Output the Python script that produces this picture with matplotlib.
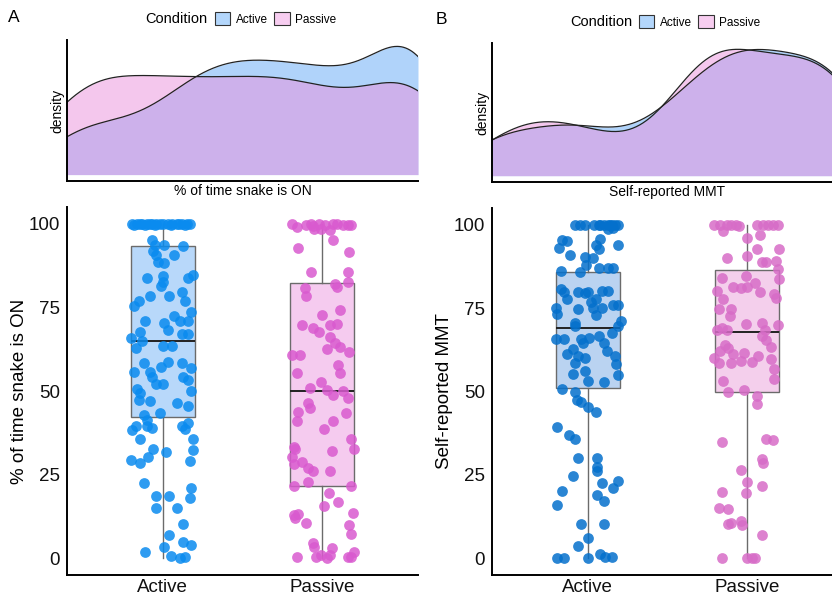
import numpy as np
import matplotlib
matplotlib.use('Agg')
import matplotlib.pyplot as plt
from matplotlib.patches import Patch

plt.rcParams['font.family'] = ['Liberation Sans', 'DejaVu Sans']

categories = ['Active', 'Passive']

# panel A: % of time snake is ON  (jitter offset, value)
a_active_dx = [-0.19, -0.16, -0.13, -0.10, -0.07, -0.04, 0.00, 0.03, 0.06, 0.09, 0.12, 0.15, 0.17,
               -0.18, -0.14, -0.11, -0.08, -0.05, -0.02, 0.05, 0.10, 0.14,
               -0.07, -0.05, 0.01, 0.13, -0.06, -0.04, 0.07, -0.03, 0.01, -0.10, 0.00, 0.16, 0.19,
               0.00, -0.01, -0.08, 0.04, 0.12, 0.14, -0.15, -0.18, 0.18, 0.07, -0.11, 0.01, 0.11,
               0.16, 0.03, -0.14, 0.12, 0.16, -0.20, -0.13, -0.17, 0.00, 0.06, 0.18, -0.18, -0.08,
               -0.07, -0.01, 0.03, -0.12, 0.12, -0.04, 0.00, 0.13, 0.16, -0.16, -0.14, 0.18, -0.15,
               -0.08, 0.09, 0.16, -0.12, -0.02, -0.10, -0.17, -0.10, -0.07, 0.12, 0.16, 0.14, -0.19,
               -0.14, 0.19, -0.06, 0.02, 0.19, -0.20, -0.09, -0.14, 0.17, -0.12, 0.18, -0.04, 0.04,
               0.17, -0.04, 0.09, 0.13, 0.04, 0.13, 0.18, -0.11, 0.01, 0.05, 0.11, 0.14]
a_active_y = [100, 100, 100, 100, 100, 100, 100, 100, 100, 100, 100, 100, 100,
              99.6, 100, 99.5, 100, 99.7, 100, 99.6, 100, 99.5,
              95.0, 93.7, 93.7, 93.4, 91.7, 90.7, 90.7, 88.7, 88.4, 83.7, 84.4, 83.7, 84.7,
              82.7, 81.5, 78.3, 78.3, 79.5, 77.0, 77.0, 75.5, 73.7, 72.5, 70.8, 70.3, 71.0,
              71.0, 68.1, 67.5, 67.1, 67.1, 65.8, 64.8, 63.0, 63.5, 63.5, 56.8, 55.8, 55.8,
              54.3, 57.3, 58.8, 58.3, 58.3, 52.1, 52.1, 54.3, 53.3, 50.5, 49.4, 49.9, 47.4,
              47.1, 46.4, 45.6, 42.9, 43.4, 41.4, 39.4, 39.6, 38.9, 39.4, 40.4, 38.7, 38.4,
              35.6, 35.6, 32.6, 31.8, 32.4, 29.4, 30.4, 28.4, 29.1, 22.4, 20.9, 18.6, 18.6,
              17.9, 15.0, 15.0, 10.3, 7.0, 4.8, 4.0, 1.8, 3.3, 0.7, 0.0, 0.3]

a_passive_dx = [-0.19, -0.16, -0.10, -0.07, -0.05, -0.02, 0.02, 0.05, 0.09, 0.13, 0.16, 0.18, 0.07,
                -0.01, -0.06, 0.07, -0.15, 0.17, -0.07, 0.16, 0.08, 0.16, -0.11, -0.10, 0.09, 0.11,
                0.00, -0.13, 0.05, 0.09, -0.06, -0.02, 0.05, 0.08, 0.11, 0.03, 0.17, -0.19, -0.14,
                -0.16, 0.11, 0.10, -0.01, -0.08, 0.03, 0.07, 0.13, 0.16, -0.09, -0.08, -0.15, 0.15,
                -0.16, 0.07, 0.01, -0.18, -0.17, 0.06, 0.20, 0.18, -0.19, -0.18, -0.13, -0.09, -0.06,
                0.05, -0.18, 0.18, -0.09, 0.04, 0.10, 0.01, -0.18, -0.15, -0.17, 0.19, -0.10, 0.17,
                0.18, -0.06, -0.05, -0.16, -0.04, -0.01, 0.06, 0.05, 0.16, 0.18, 0.20, 0.03]
a_passive_y = [100, 98.9, 99.7, 100, 98.4, 100, 99.7, 98.2, 100, 99.7, 99.7, 99.7, 100,
               98.4, 99.4, 95.0, 92.7, 91.5, 85.6, 85.6, 82.0, 82.5, 80.8, 78.5, 81.0, 74.3,
               72.8, 69.8, 69.8, 70.0, 68.8, 67.5, 66.1, 64.3, 63.1, 62.5, 61.8, 60.8, 60.8,
               55.3, 55.3, 57.8, 52.8, 50.8, 50.3, 48.9, 49.9, 47.9, 46.4, 44.9, 43.6, 43.4,
               40.9, 41.1, 38.6, 33.4, 32.6, 32.1, 32.6, 35.6, 30.4, 28.1, 28.9, 26.9, 26.1,
               26.1, 21.6, 21.6, 22.9, 19.4, 16.9, 15.7, 13.0, 13.3, 12.0, 13.5, 10.5, 10.0,
               7.2, 4.7, 3.5, 0.3, 0.5, 1.0, 3.0, 1.0, 0.5, 0.5, 2.0, 0.2]

# panel B: Self-reported MMT
b_active_dx = [-0.08, -0.05, -0.02, 0.04, 0.07, 0.10, 0.13, 0.15, 0.17, 0.19, 0.14, 0.08, 0.13, 0.16,
               -0.16, -0.13, -0.18, 0.08, 0.05, 0.07, 0.19, -0.11, -0.02, 0.03, -0.01, 0.07, 0.13,
               0.16, -0.17, -0.05, -0.17, -0.15, -0.13, -0.06, -0.02, 0.00, 0.09, 0.13, 0.05, 0.02,
               -0.20, -0.06, 0.03, 0.09, 0.16, 0.19, -0.19, 0.05, -0.08, -0.08, 0.21, 0.19, 0.15,
               -0.20, -0.15, -0.04, 0.01, 0.07, -0.09, -0.03, 0.10, 0.12, -0.13, -0.06, -0.02, 0.17,
               -0.08, 0.18, 0.19, -0.09, -0.02, 0.00, 0.10, -0.16, -0.08, -0.07, -0.04, 0.00, 0.05,
               -0.19, -0.12, -0.08, -0.06, 0.06, 0.06, 0.06, -0.09, 0.09, 0.19, 0.16, -0.16, 0.06,
               0.10, -0.19, -0.04, 0.10, 0.00, -0.06, -0.19, -0.15, 0.00, 0.08, 0.11, 0.15]
b_active_y = [100, 100, 100, 100, 100, 100, 100, 100, 100, 100, 100, 100, 98.8, 99.0,
              95.3, 95.0, 93.0, 95.6, 94.0, 92.8, 93.8, 91.0, 90.2, 90.0, 88.0, 87.1, 87.1,
              86.9, 86.2, 85.9, 80.7, 79.7, 77.7, 79.9, 79.5, 79.7, 80.2, 80.2, 77.7, 76.7,
              75.1, 74.8, 75.1, 75.1, 75.9, 75.9, 73.1, 72.8, 70.4, 69.6, 71.1, 69.6, 67.6,
              65.8, 65.6, 65.8, 66.1, 66.6, 62.8, 64.6, 64.4, 62.0, 61.1, 60.6, 60.1, 60.6,
              58.6, 58.1, 55.0, 55.3, 56.0, 53.0, 52.7, 50.7, 50.0, 47.5, 47.0, 45.5, 43.9,
              39.4, 36.9, 35.9, 30.1, 30.1, 27.4, 26.2, 24.8, 22.5, 23.1, 21.1, 20.1, 19.1,
              17.1, 16.0, 10.3, 10.3, 6.2, 3.7, 0.0, 0.0, 0.0, 1.2, 0.4, 0.4]

b_passive_dx = [-0.21, -0.17, -0.15, -0.13, -0.10, -0.07, -0.05, 0.06, 0.10, 0.13, 0.16, 0.19,
                0.00, 0.08, 0.06, 0.20, -0.13, 0.00, 0.09, 0.12, 0.18, 0.19, 0.20, -0.01, 0.05,
                -0.16, -0.09, -0.04, 0.00, 0.08, -0.19, -0.15, 0.17, 0.18, -0.18, -0.10, -0.11,
                -0.01, 0.09, 0.19, 0.11, -0.19, -0.16, -0.13, 0.09, 0.12, -0.14, -0.12, 0.15,
                -0.17, -0.09, -0.02, 0.07, -0.21, 0.15, -0.10, -0.04, 0.03, -0.18, 0.17, -0.15,
                0.17, -0.12, -0.02, 0.06, 0.06, -0.16, 0.12, 0.16, 0.09, 0.10, -0.04, 0.00, 0.09,
                -0.16, -0.01, -0.18, -0.12, -0.10, -0.12, -0.04, -0.03, 0.09, -0.16, 0.00, 0.03, 0.05]
b_passive_y = [100, 99.8, 98.0, 99.8, 100, 99.8, 99.6, 100, 100, 100, 100, 100,
               96.0, 97.0, 92.6, 92.6, 90.1, 90.5, 88.9, 88.7, 89.1, 86.7, 83.7, 84.5, 82.5,
               83.9, 81.2, 80.9, 81.2, 79.9, 80.2, 77.7, 79.2, 77.9, 74.6, 74.6, 72.6,
               70.1, 70.4, 69.8, 68.3, 68.4, 69.1, 68.4, 66.6, 65.3, 63.8, 63.1, 63.3,
               62.1, 61.1, 61.6, 60.6, 60.1, 59.8, 58.4, 59.1, 58.8, 58.6, 56.7, 53.0,
               53.7, 50.0, 50.5, 48.7, 46.3, 34.9, 35.9, 35.4, 29.9, 28.6, 26.6, 23.0, 21.6,
               19.8, 19.5, 15.1, 14.8, 10.5, 10.3, 11.1, 10.1, 6.9, 0.0, 0.0, 0.0, 0.0]

# box statistics: [Active, Passive]
a_q1 = [42.2, 21.6]
a_med = [64.8, 50.1]
a_q3 = [93.2, 82.3]
a_lo = [0, 0]
a_hi = [100, 100]
b_q1 = [51.0, 50.0]
b_med = [69.0, 67.9]
b_q3 = [85.9, 86.4]
b_lo = [0, 0]
b_hi = [100, 100]

W, H = 832, 599
fig = plt.figure(figsize=(W / 100, H / 100), dpi=100)


def pos(l, t, r, b):
    return [l / W, 1 - b / H, (r - l) / W, (b - t) / H]


def kde(vals, grid):
    # gaussian kde, bw.nrd0 like ggplot's geom_density
    v = np.asarray(vals, float)
    n = len(v)
    iqr = np.subtract(*np.percentile(v, [75, 25]))
    bw = 0.9 * min(v.std(ddof=1), iqr / 1.34) * n ** -0.2
    z = (grid[:, None] - v[None, :]) / bw
    return np.exp(-0.5 * z ** 2).sum(axis=1) / (n * bw * np.sqrt(2 * np.pi))


dens_col = {'Active': '#62A9F6', 'Passive': '#EB91DD'}
leg_col = {'Active': '#B3D6FB', 'Passive': '#F7CDF0'}


def density_panel(rect, act, pas, xlabel):
    ax = fig.add_axes(rect)
    grid = np.linspace(0, 100, 512)
    da, dp = kde(act, grid), kde(pas, grid)
    m = max(da.max(), dp.max())
    ax.fill_between(grid, 0, da, color=dens_col['Active'], alpha=0.5, lw=0)
    ax.plot(grid, da, color='#222222', lw=0.9)
    ax.fill_between(grid, 0, dp, color=dens_col['Passive'], alpha=0.5, lw=0)
    ax.plot(grid, dp, color='#222222', lw=0.9)
    ax.set_xlim(0, 100)
    ax.set_ylim(-0.05 * m, 1.05 * m)
    for s in ['top', 'right']:
        ax.spines[s].set_visible(False)
    for s in ['left', 'bottom']:
        ax.spines[s].set_linewidth(1.4)
    ax.set_xticks([])
    ax.set_yticks([])
    ax.set_ylabel('density', fontsize=10, labelpad=2)
    ax.set_xlabel(xlabel, fontsize=10, labelpad=2)
    return ax


def box_panel(rect, dxs, ys, q1, med, q3, lo, hi, box_cols, pt_cols, ylabel):
    ax = fig.add_axes(rect)
    stats = []
    for i in range(2):
        stats.append({'q1': q1[i], 'med': med[i], 'q3': q3[i],
                      'whislo': lo[i], 'whishi': hi[i], 'fliers': []})
    bp = ax.bxp(stats, positions=[1, 2], widths=0.4, patch_artist=True,
                showcaps=False, showfliers=False,
                boxprops=dict(edgecolor='#6b6b6b', linewidth=1.0),
                whiskerprops=dict(color='#6b6b6b', linewidth=1.0),
                medianprops=dict(color='#222222', linewidth=1.4))
    for patch, c in zip(bp['boxes'], box_cols):
        patch.set_facecolor(c)
    for i in range(2):
        ax.scatter(np.array(dxs[i]) + i + 1, ys[i], s=60, color=pt_cols[i],
                   alpha=0.85, linewidths=0, zorder=3)
    ax.set_xlim(0.4, 2.6)
    ax.set_ylim(-5, 105)
    ax.set_yticks([0, 25, 50, 75, 100])
    ax.set_xticks([1, 2])
    ax.set_xticklabels(categories)
    ax.tick_params(axis='both', length=0, labelsize=13.5, colors='#111111')
    ax.tick_params(axis='y', pad=5)
    ax.tick_params(axis='x', pad=3)
    for s in ['top', 'right']:
        ax.spines[s].set_visible(False)
    for s in ['left', 'bottom']:
        ax.spines[s].set_linewidth(1.4)
    ax.set_ylabel(ylabel, fontsize=13.5, labelpad=0.5)
    return ax


def legend(x_text, x_leg, y):
    fig.text(x_text / W, 1 - y / H, 'Condition', fontsize=10.5, va='center', ha='left')
    handles = [Patch(facecolor=leg_col[c], edgecolor='#333333', linewidth=0.8, label=c)
               for c in categories]
    fig.legend(handles=handles, loc='center left', bbox_to_anchor=(x_leg / W, 1 - y / H),
               ncol=2, frameon=False, fontsize=8.5, handlelength=1.3, handleheight=1.3,
               handletextpad=0.5, columnspacing=0.5, borderpad=0, borderaxespad=0)


# panel A
density_panel(pos(67, 40, 418, 181), a_active_y, a_passive_y, '% of time snake is ON')
box_panel(pos(67, 207, 418, 575), [a_active_dx, a_passive_dx], [a_active_y, a_passive_y],
          a_q1, a_med, a_q3, a_lo, a_hi, ['#B8D8FA', '#F5CBEF'], ['#0A8BEF', '#D95ACF'],
          '% of time snake is ON')
legend(145, 215, 19)
fig.text(14 / W, 1 - 18 / H, 'A', fontsize=12.5, ha='center', va='center')

# panel B (runs past the right edge of the image)
density_panel(pos(492, 43, 843, 182), b_active_y, b_passive_y, 'Self-reported MMT')
box_panel(pos(492, 208, 843, 575), [b_active_dx, b_passive_dx], [b_active_y, b_passive_y],
          b_q1, b_med, b_q3, b_lo, b_hi, ['#BAD3F1', '#F4CFEC'], ['#0470CC', '#D76CC7'],
          'Self-reported MMT')
legend(570, 639, 22)
fig.text(441 / W, 1 - 20 / H, 'B', fontsize=12.5, ha='center', va='center')

fig.savefig('out.png', dpi=100)
